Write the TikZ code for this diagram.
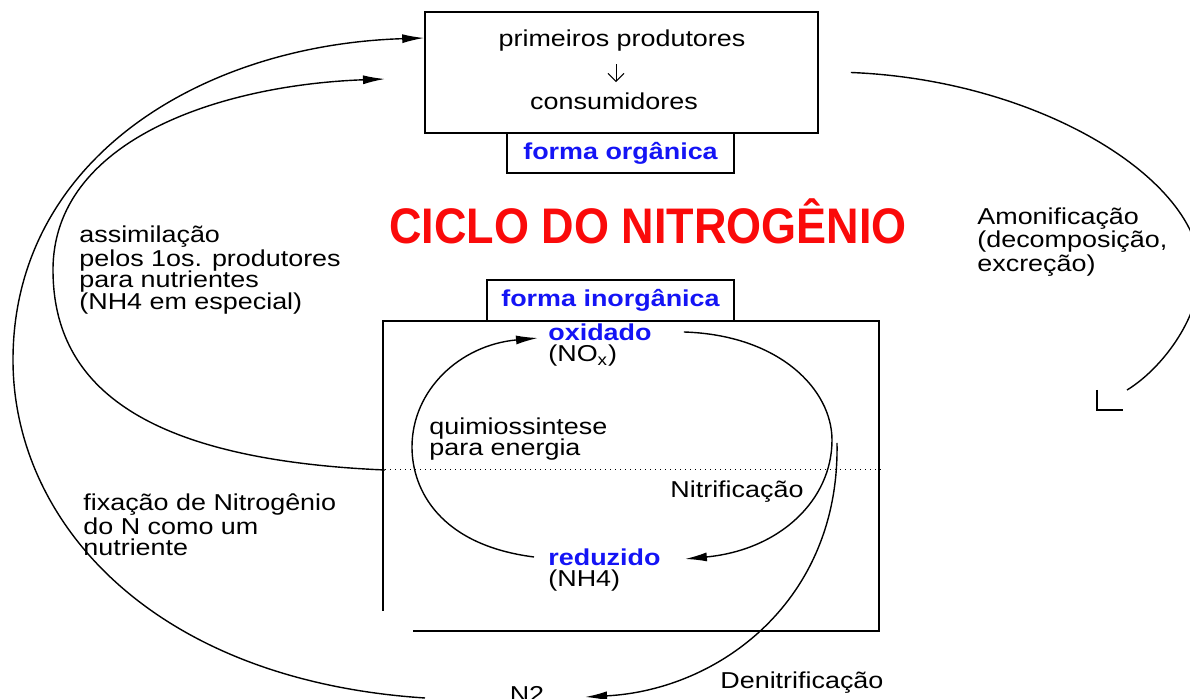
\documentclass[tikz,border=0pt]{standalone}
\usepackage{fontspec}
\setmainfont[FakeStretch=1.17]{Liberation Sans}
\newfontfamily\titlefont[FakeStretch=0.9]{Liberation Sans}
\usetikzlibrary{arrows.meta,positioning}
\definecolor{azul}{RGB}{20,20,245}
\definecolor{vermelho}{RGB}{250,10,10}
\tikzset{
  txt/.style={inner sep=0pt,font=\fontsize{11.5}{10.75}\selectfont,align=left},
  rot/.style={txt,text=azul,font=\fontsize{11.5}{10.75}\selectfont\bfseries},
  caixa/.style={draw,line width=0.8pt,inner sep=0pt},
  seta/.style={line width=0.7pt,-{Latex[length=11pt,width=4.5pt]}},
  curva/.style={line width=0.7pt},
}
\begin{document}
\begin{tikzpicture}[x=0.5pt,y=-0.5pt]
\useasboundingbox (0,0) rectangle (1190,699);
% forma organica
\node[caixa,minimum width=196.5pt,minimum height=60.5pt](topo) at (621.5,72.5){};
\node[txt](prim) at (622,41){primeiros produtores};
\node[txt](cons) at (614,101){consumidores};
\draw[line width=0.5pt,shorten <=6pt,shorten >=5pt,-{Straight Barb[length=4pt,width=8pt]}](prim.south-|616,0)--(cons.north-|616,0);
\node[caixa,rot,minimum width=113.5pt,minimum height=20pt](org) at (620.5,153){forma orgânica};
\node[anchor=base,inner sep=0pt,text=vermelho,font=\titlefont\fontsize{25}{25}\selectfont\bfseries](titulo) at (648,244){CICLO DO NITROGÊNIO};
% forma inorganica
\node[caixa,rot,minimum width=123.5pt,minimum height=20.5pt](inorg) at (610.5,300.5){forma inorgânica};
\draw[line width=0.8pt](383,611)--(383,321)--(879,321)--(879,631)--(413,631);
\draw[dotted,line width=0.5pt](385,470)coordinate(assimA)--(883,470);
\node[rot,anchor=west](oxid) at (548,332){oxidado};
\node[txt,anchor=north west](nox) at ([yshift=-2pt]oxid.south west){(NO\textsubscript{x})};
\node[rot,anchor=west](red) at (548,557){reduzido};
\node[txt,anchor=north west](nh) at ([yshift=-2pt]red.south west){(NH4)};
\draw[seta]([xshift=-7pt]red.west) .. controls (440,545) and (412,490) .. (412,447) .. controls (412,390) and (460,345) .. ([shift={(-5pt,-3pt)}]oxid.west);
\draw[seta]([xshift=16pt]oxid.east) .. controls (780,335) and (832,390) .. (832,440) .. controls (832,500) and (780,550) .. ([shift={(12pt,-1pt)}]red.east);
\node[txt,anchor=west](quim) at (429,439){quimiossintese\\para energia};
\node[txt,anchor=west](nitr) at (670,492){Nitrificação};
% ciclo externo
\node[txt,anchor=base](n2) at (527,703){N2};
\coordinate(n2seta) at (585,697);
\draw[seta](837,443)coordinate(denA) .. controls (840,600) and (720,690) .. (n2seta);
\node[txt,anchor=west](denit) at (720,683){Denitrificação};
\draw[curva]([xshift=16pt]topo.east) .. controls (1040,80) and (1200,180) .. (1200,270) .. controls (1200,320) and (1160,370) .. (1127,390)coordinate(amoB);
\draw[curva](amoB)++(-30,0)--++(0,20)--++(26,0);
\node[txt,anchor=west](amon) at (977,242){Amonificação\\(decomposição,\\excreção)};
\coordinate(assimB) at (385,79);
\draw[seta](assimA) .. controls (150,460) and (53,390) .. (53,270) .. controls (53,140) and (220,85) .. (assimB);
\node[txt,anchor=west](assim) at (79,270){assimilação\\pelos 1os. produtores\\para nutrientes\\(NH4 em especial)};
\draw[seta](425,698)coordinate(fixA) .. controls (150,680) and (13,520) .. (13,360) .. controls (13,160) and (200,45) .. ([yshift=17.25pt]topo.west);
\node[txt,anchor=west](fix) at (83,525){fixação de Nitrogênio\\do N como um\\nutriente};
\end{tikzpicture}
\end{document}
